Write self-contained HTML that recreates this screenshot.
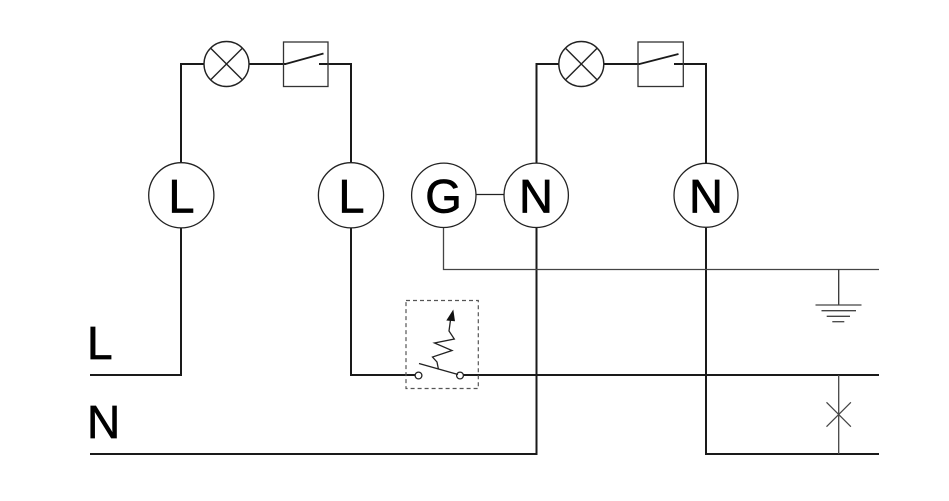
<!DOCTYPE html>
<html>
<head>
<meta charset="utf-8">
<style>
  html, body { margin:0; padding:0; background:#fff; }
  body { width:949px; height:501px; overflow:hidden; }
  svg { display:block; }
  text { font-family: "Liberation Sans", Arial, sans-serif; fill:#000; stroke:#000; stroke-width:0.7; }
</style>
</head>
<body>
<svg width="949" height="501" viewBox="0 0 949 501" xmlns="http://www.w3.org/2000/svg">
  <rect x="0" y="0" width="949" height="501" fill="#fff"/>

  <!-- ===== Left lamp circuit ===== -->
  <g fill="none" stroke="#1a1a1a" stroke-width="2">
    <polyline points="181,163 181,64 204,64"/>
    <line x1="249" y1="64" x2="286" y2="64"/>
    <polyline points="319,64 351,64 351,163"/>
    <polyline points="181,228 181,375 90,375"/>
    <polyline points="351,228 351,375 415,375"/>
  </g>
  <g fill="none" stroke="#222" stroke-width="1.4">
    <circle cx="226.5" cy="64" r="22.5"/>
    <line x1="210.6" y1="48.1" x2="242.4" y2="79.9"/>
    <line x1="242.4" y1="48.1" x2="210.6" y2="79.9"/>
  </g>
  <rect x="283.5" y="42" width="44.5" height="44.5" fill="none" stroke="#333" stroke-width="1.3"/>
  <line x1="285.5" y1="64" x2="323.5" y2="53.5" stroke="#1a1a1a" stroke-width="1.8"/>

  <!-- ===== Right lamp circuit ===== -->
  <g fill="none" stroke="#1a1a1a" stroke-width="2">
    <polyline points="536.5,163 536.5,64 559,64"/>
    <line x1="604" y1="64" x2="640" y2="64"/>
    <polyline points="674,64 706,64 706,163"/>
    <polyline points="536.5,228 536.5,454 90,454"/>
    <polyline points="706,228 706,454 879,454"/>
    <line x1="463.5" y1="375" x2="879" y2="375"/>
  </g>
  <g fill="none" stroke="#222" stroke-width="1.4">
    <circle cx="581.3" cy="64" r="22.5"/>
    <line x1="565.4" y1="48.1" x2="597.2" y2="79.9"/>
    <line x1="597.2" y1="48.1" x2="565.4" y2="79.9"/>
  </g>
  <rect x="638" y="42" width="45.3" height="44.5" fill="none" stroke="#333" stroke-width="1.3"/>
  <line x1="639.5" y1="64" x2="678.5" y2="54" stroke="#1a1a1a" stroke-width="1.8"/>

  <!-- ===== Terminal circles ===== -->
  <g fill="#fff" stroke="#222" stroke-width="1.3">
    <circle cx="181.3" cy="195.3" r="32.6"/>
    <circle cx="351" cy="195.3" r="32.6"/>
    <circle cx="443.8" cy="195.3" r="32.2"/>
    <circle cx="536.2" cy="195.3" r="32.2"/>
    <circle cx="706" cy="195.3" r="32"/>
  </g>
  <line x1="476" y1="194.5" x2="504" y2="194.5" stroke="#222" stroke-width="1.2"/>

  <g font-size="47" text-anchor="middle">
    <text x="181.5" y="212.7">L</text>
    <text x="351.5" y="212.7">L</text>
    <text x="443.5" y="212.5">G</text>
    <text x="536" y="212.7">N</text>
    <text x="706" y="212.7">N</text>
  </g>

  <!-- Labels -->
  <g font-size="46">
    <text x="87" y="359">L</text>
    <text x="87" y="438">N</text>
  </g>

  <!-- ===== Ground line ===== -->
  <polyline points="443.5,228 443.5,269.5 879,269.5" fill="none" stroke="#444" stroke-width="1.3"/>
  <line x1="838.7" y1="269.5" x2="838.7" y2="305" stroke="#333" stroke-width="1.3"/>
  <g stroke="#444" stroke-width="1.3">
    <line x1="815.5" y1="305" x2="861.5" y2="305"/>
    <line x1="821.5" y1="310.7" x2="856" y2="310.7"/>
    <line x1="826.7" y1="316.3" x2="850" y2="316.3"/>
    <line x1="832.3" y1="321.7" x2="844.3" y2="321.7"/>
  </g>

  <!-- ===== Right crossing with X ===== -->
  <line x1="838.7" y1="375" x2="838.7" y2="454" stroke="#444" stroke-width="1.3"/>
  <g stroke="#444" stroke-width="1.2">
    <line x1="826.5" y1="402.3" x2="850.9" y2="426.7"/>
    <line x1="850.9" y1="402.3" x2="826.5" y2="426.7"/>
  </g>

  <!-- ===== Thermal switch ===== -->
  <rect x="406" y="300.5" width="72.3" height="88" fill="none" stroke="#555" stroke-width="1.2" stroke-dasharray="4,3"/>
  <g fill="#fff" stroke="#222" stroke-width="1.3">
    <circle cx="418.5" cy="375.5" r="3.4"/>
    <circle cx="460" cy="375.5" r="3.4"/>
  </g>
  <line x1="419" y1="363.5" x2="458" y2="374.5" stroke="#222" stroke-width="1.4"/>
  <polyline points="438.5,369.5 437,362 432.5,357 452,350.5 434.5,343 454.3,339 449,331 450.5,320"
            fill="none" stroke="#222" stroke-width="1.3"/>
  <polygon points="453.3,309.5 446.3,320.5 455,321.3" fill="#111"/>
</svg>
</body>
</html>
